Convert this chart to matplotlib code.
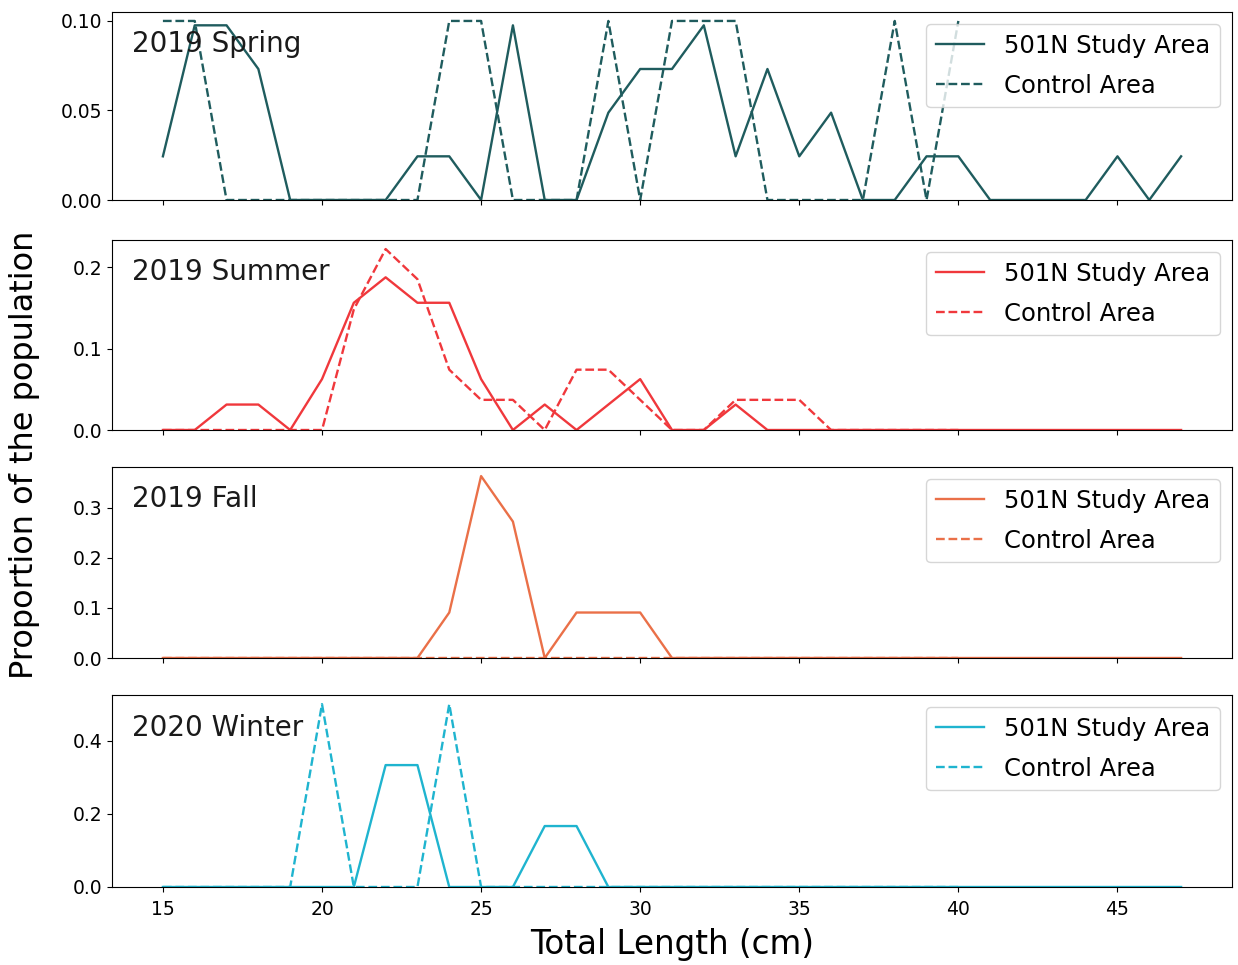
import matplotlib
matplotlib.use("Agg")
import matplotlib.pyplot as plt
import numpy as np

# Length classes (cm)
study_lengths = list(range(15, 48))   # 15..47
control_lengths = list(range(15, 41))  # 15..40

seasons = ["2019 Spring", "2019 Summer", "2019 Fall", "2020 Winter"]
colors = ["#1f5c5e", "#f0383c", "#ea7048", "#1fb4cf"]

# counts (proportions = counts / total)
spring_study_counts = [1, 4, 4, 3, 0, 0, 0, 0, 1, 1, 0, 4, 0, 0, 2, 3, 3, 4, 1, 3, 1, 2, 0, 0, 1, 1, 0, 0, 0, 0, 1, 0, 1]
spring_control_counts = [1, 1, 0, 0, 0, 0, 0, 0, 0, 1, 1, 0, 0, 0, 1, 0, 1, 1, 1, 0, 0, 0, 0, 1, 0, 1]

summer_study_counts = [0, 0, 1, 1, 0, 2, 5, 6, 5, 5, 2, 0, 1, 0, 1, 2, 0, 0, 1, 0, 0, 0, 0, 0, 0, 0, 0, 0, 0, 0, 0, 0, 0]
summer_control_counts = [0, 0, 0, 0, 0, 0, 4, 6, 5, 2, 1, 1, 0, 2, 2, 1, 0, 0, 1, 1, 1, 0, 0, 0, 0, 0]

fall_study_counts = [0, 0, 0, 0, 0, 0, 0, 0, 0, 1, 4, 3, 0, 1, 1, 1, 0, 0, 0, 0, 0, 0, 0, 0, 0, 0, 0, 0, 0, 0, 0, 0, 0]
fall_control_props = [0.0] * 26

winter_study_counts = [0, 0, 0, 0, 0, 0, 0, 2, 2, 0, 0, 0, 1, 1, 0, 0, 0, 0, 0, 0, 0, 0, 0, 0, 0, 0, 0, 0, 0, 0, 0, 0, 0]
winter_control_counts = [0, 0, 0, 0, 0, 1, 0, 0, 0, 1, 0, 0, 0, 0, 0, 0, 0, 0, 0, 0, 0, 0, 0, 0, 0, 0]

x_ticks = [15, 20, 25, 30, 35, 40, 45]
y_ticks = [[0.0, 0.05, 0.10], [0.0, 0.1, 0.2], [0.0, 0.1, 0.2, 0.3], [0.0, 0.2, 0.4]]
y_ticklabels = [["0.00", "0.05", "0.10"], ["0.0", "0.1", "0.2"],
                ["0.0", "0.1", "0.2", "0.3"], ["0.0", "0.2", "0.4"]]


def props(c):
    c = np.asarray(c, dtype=float)
    s = c.sum()
    return c / s if s > 0 else c


study = [props(spring_study_counts), props(summer_study_counts),
         props(fall_study_counts), props(winter_study_counts)]
control = [props(spring_control_counts), props(summer_control_counts),
           np.asarray(fall_control_props), props(winter_control_counts)]

W, H = 1238, 965
fig = plt.figure(figsize=(W / 100, H / 100), dpi=100)

boxes = [(12, 200), (240, 430), (467, 658), (695, 887)]
left, right = 112, 1232

axes = []
for i, (top, bot) in enumerate(boxes):
    ax = fig.add_axes([left / W, 1 - bot / H, (right - left) / W, (bot - top) / H],
                      sharex=axes[0] if axes else None)
    axes.append(ax)
    ax.plot(study_lengths, study[i], color=colors[i], lw=1.7, label="501N Study Area")
    ax.plot(control_lengths, control[i], color=colors[i], lw=1.7, ls="--", label="Control Area")
    ax.set_ylim(bottom=0)
    ax.set_yticks(y_ticks[i])
    ax.set_yticklabels(y_ticklabels[i])
    ax.text(0.018, 0.83, seasons[i], transform=ax.transAxes, fontsize=20,
            va="center", ha="left", color="#1a1a1a")
    ax.legend(loc="upper right", fontsize=17.5, handlelength=2.0, labelspacing=0.65)
    ax.tick_params(labelsize=13.5)
    if i < 3:
        ax.tick_params(labelbottom=False)

axes[-1].tick_params(axis="x", pad=6)
axes[-1].set_xticks(x_ticks)
axes[-1].set_xlabel("Total Length (cm)", fontsize=23.5, labelpad=6)

fig.text(25 / W, 1 - 455 / H, "Proportion of the population", rotation=90,
         fontsize=23, va="center", ha="center")

fig.savefig("out.png", dpi=100)
